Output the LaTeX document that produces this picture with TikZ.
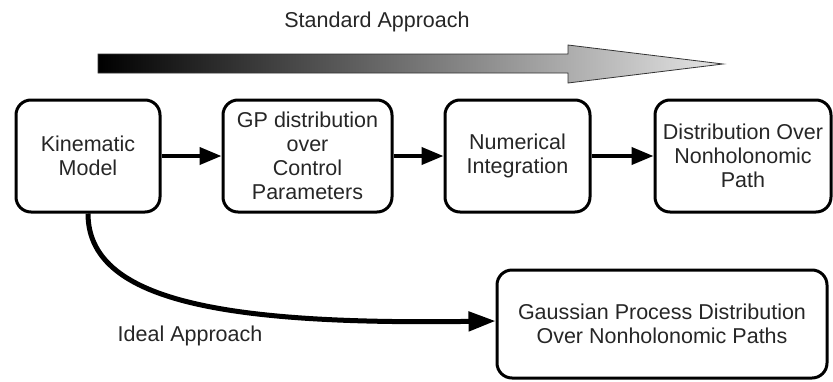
\documentclass[tikz,border=0pt]{standalone}
\usepackage{fontspec}
\setmainfont{Liberation Sans}
\usetikzlibrary{arrows.meta}
\tikzset{
  procbox/.style={draw=black, line width=3pt, rounded corners=15pt, align=center,
    inner sep=0pt, font=\fontsize{21.5}{24}\selectfont, text=black!85},
  flow/.style={line width=4pt, -{Triangle[length=22pt,width=17pt]}},
  ideal/.style={line width=5pt, -{Triangle[length=27pt,width=19pt]}},
  plainlabel/.style={font=\fontsize{21.5}{24}\selectfont, text=black!85, inner sep=0pt}
}
\begin{document}
\begin{tikzpicture}[x=1pt,y=-1pt]
\useasboundingbox (0,0) rectangle (833,381);
% gradient arrow
\shade[left color=black, right color=black!10, draw=black!80, line width=0.8pt]
  (98,54) -- (568,54) -- (568,45) -- (723,64) -- (568,83) -- (568,73) -- (98,73) -- cycle;
\node[plainlabel] (std) at (377,22) {Standard Approach};
% boxes
\node[procbox, minimum width=144pt, minimum height=112pt] (km) at (88,156) {Kinematic\\Model};
\node[procbox, minimum width=169pt, minimum height=112pt] (gp) at (307.5,156) {GP distribution\\over\\Control\\Parameters};
\node[procbox, minimum width=145pt, minimum height=112pt] (ni) at (517.5,156) {Numerical\\Integration};
\node[procbox, minimum width=176pt, minimum height=112pt] (dn) at (743,156) {Distribution Over\\Nonholonomic\\Path};
\node[procbox, minimum width=330pt, minimum height=108pt] (gd) at (662,324) {Gaussian Process Distribution\\Over Nonholonomic Paths};
% connectors
\draw[flow] (km.east) -- (gp.west);
\draw[flow] (gp.east) -- (ni.west);
\draw[flow] (ni.east) -- (dn.west);
\draw[ideal] (km.south) .. controls (88,300) and (220,325) .. ([yshift=3pt]gd.west);
\node[plainlabel] (ia) at (190,336) {Ideal Approach};
\end{tikzpicture}
\end{document}
